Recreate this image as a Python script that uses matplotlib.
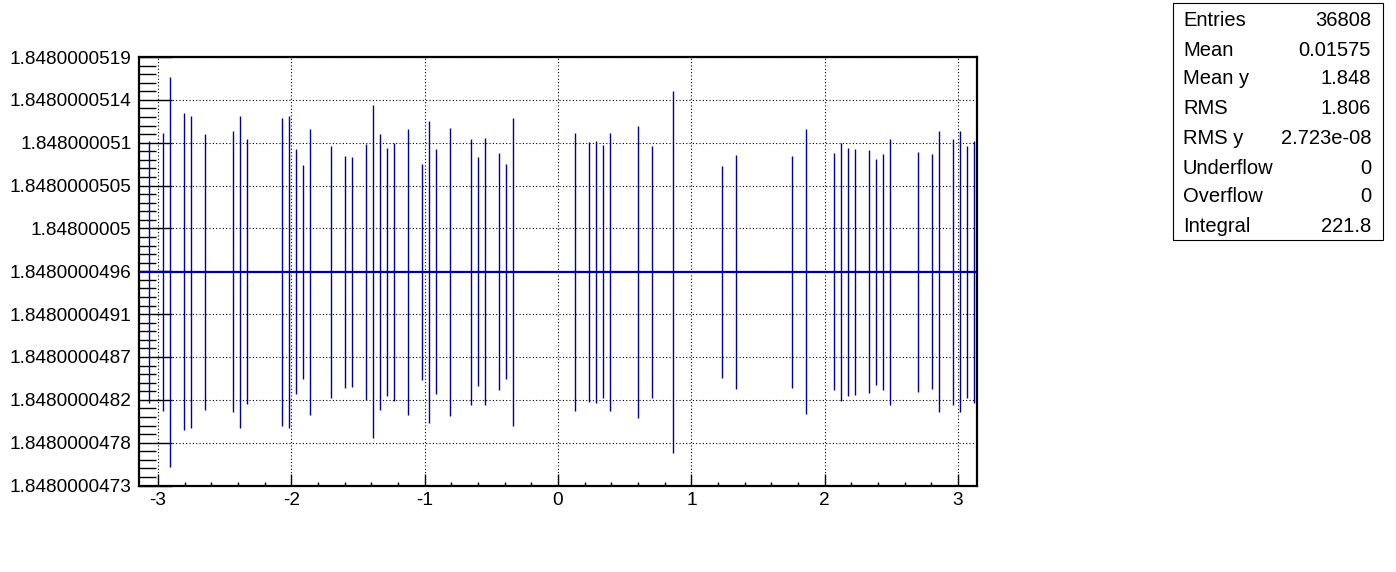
import matplotlib
matplotlib.use('Agg')
import matplotlib.pyplot as plt
import numpy as np
from matplotlib.patches import Rectangle
from matplotlib.ticker import FixedLocator, FuncFormatter, AutoMinorLocator, MultipleLocator

plt.rcParams['font.family'] = ['Liberation Sans', 'DejaVu Sans']

# profile bins that carry a visible spread (bin centre, error in units of 1e-10)
bin_x = [-3.0631, -2.9584, -2.9060, -2.8013, -2.7489, -2.6442, -2.4347, -2.3824,
         -2.3300, -2.0682, -2.0159, -1.9635, -1.9111, -1.8588, -1.7017, -1.5970,
         -1.5446, -1.4399, -1.3875, -1.3352, -1.2828, -1.2305, -1.1257, -1.0210,
         -0.9687, -0.9163, -0.8116, -0.6545, -0.6021, -0.5498, -0.4451, -0.3927,
         -0.3403, 0.1309, 0.2356, 0.2880, 0.3403, 0.3927, 0.6021, 0.7069,
         0.8639, 1.2305, 1.3352, 1.7540, 1.8588, 2.0682, 2.1206, 2.1729,
         2.2253, 2.3300, 2.3824, 2.4347, 2.4871, 2.6965, 2.8013, 2.8536,
         2.9584, 3.0107, 3.0631, 3.1154]
bin_err_e10 = [13.97, 14.81, 20.80, 16.89, 16.62, 14.70, 14.97, 16.62,
               14.11, 16.41, 16.62, 13.05, 11.39, 15.23, 13.42, 12.35,
               12.25, 13.63, 17.74, 14.70, 13.21, 13.74, 15.23, 11.50,
               16.09, 13.05, 15.34, 14.17, 12.19, 14.22, 12.62, 11.45,
               16.41, 14.81, 13.85, 13.95, 13.47, 14.81, 15.55, 13.42,
               19.29, 11.29, 12.46, 12.35, 15.18, 12.62, 13.74, 13.21,
               13.10, 12.94, 12.03, 12.57, 14.17, 12.78, 12.51, 14.97,
               14.17, 14.97, 13.42, 13.95]
profile_mean = 1.84800004958
x_range = (-np.pi, np.pi)
y_range = (1.8480000473, 1.84800005187)

stat_names = ['Entries', 'Mean', 'Mean y', 'RMS', 'RMS y', 'Underflow', 'Overflow', 'Integral']
stat_values = ['36808', '0.01575', '1.848', '1.806', '2.723e-08', '0', '0', '221.8']

W, H = 1396, 572
fig = plt.figure(figsize=(W / 100, H / 100), dpi=100)
ax = fig.add_axes([139 / W, 1 - 485.5 / H, (977 - 139) / W, (485.5 - 57) / H])

color = '#00009c'
yerr = np.array(bin_err_e10) * 1e-10
ax.hlines(profile_mean, x_range[0], x_range[1], color=color, lw=1.6, zorder=3)
ax.errorbar(bin_x, [profile_mean] * len(bin_x), yerr=yerr, fmt='none',
            ecolor=color, elinewidth=1.0, capsize=0, zorder=3)

ax.set_xlim(*x_range)
ax.set_ylim(*y_range)

ax.xaxis.set_major_locator(MultipleLocator(1))
ax.xaxis.set_minor_locator(MultipleLocator(0.2))
ax.yaxis.set_major_locator(FixedLocator(np.linspace(y_range[0], y_range[1], 11)))
ax.yaxis.set_minor_locator(AutoMinorLocator(5))
ax.yaxis.set_major_formatter(FuncFormatter(lambda v, p: '%.11g' % v))
ax.xaxis.set_major_formatter(FuncFormatter(lambda v, p: '%g' % v))

ax.tick_params(axis='x', which='major', direction='in', length=8.6, width=1.0,
               labelsize=13.7, pad=4.5)
ax.tick_params(axis='x', which='minor', direction='in', length=3.2, width=1.0)
ax.tick_params(axis='y', which='major', direction='in', length=23.5, width=1.0,
               labelsize=13.7, pad=5.5)
ax.tick_params(axis='y', which='minor', direction='in', length=12, width=1.0)

ax.grid(True, which='major', color='black', linestyle=(0, (1, 2)), linewidth=0.8)
ax.set_axisbelow(True)
for s in ax.spines.values():
    s.set_linewidth(1.6)

# statistics box
fig.patches.append(Rectangle((1173 / W, 1 - 240 / H), 210 / W, 237 / H,
                             transform=fig.transFigure, fill=False,
                             edgecolor='black', linewidth=0.8))
row_y = [21, 50, 79, 109, 138, 168, 197, 226]
for name, val, yy in zip(stat_names, stat_values, row_y):
    fig.text(1183 / W, 1 - yy / H, name, ha='left', va='center', fontsize=14.5)
    fig.text(1371 / W, 1 - yy / H, val, ha='right', va='center', fontsize=14.5)

fig.savefig('out.png', dpi=100)
